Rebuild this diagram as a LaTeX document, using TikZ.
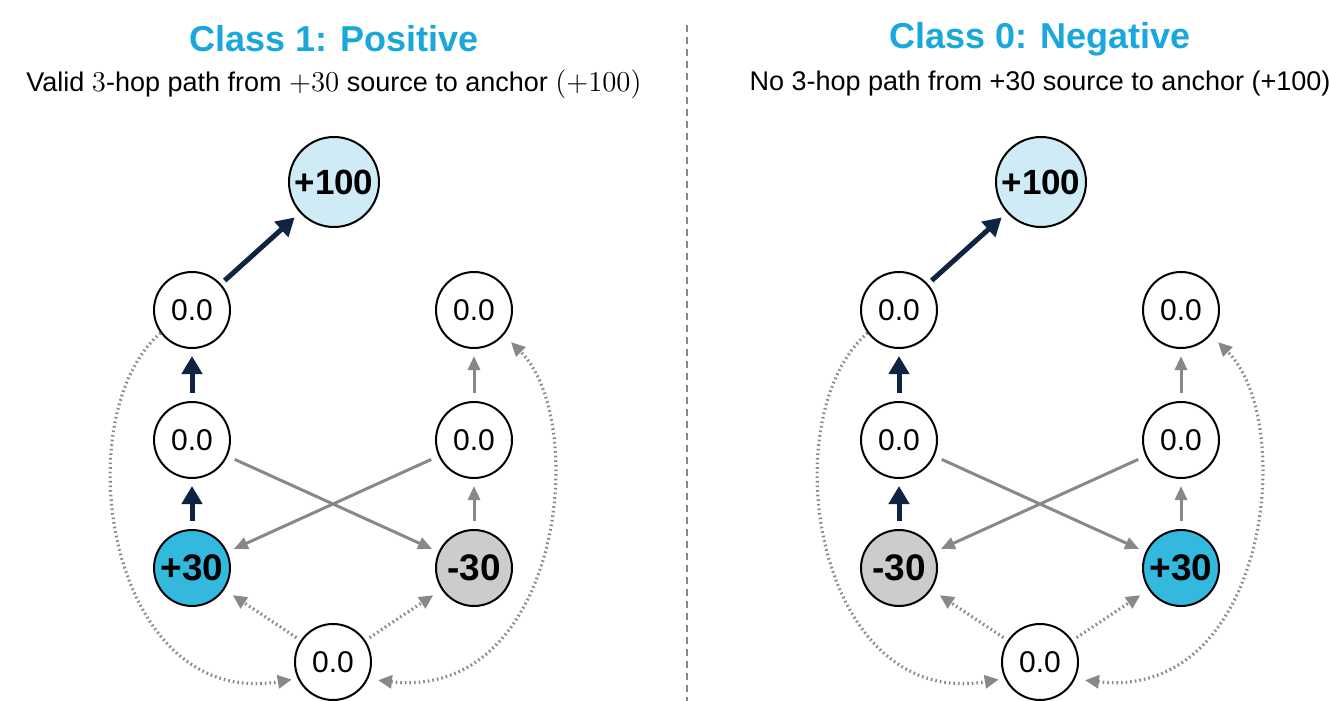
\documentclass[tikz,border=0pt]{standalone}
\usepackage[no-math]{fontspec}
\setmainfont{Liberation Sans}
\usetikzlibrary{arrows.meta}
\definecolor{titleblue}{HTML}{1AA8DC}
\definecolor{srcblue}{HTML}{33B8DE}
\definecolor{anchorblue}{HTML}{CFEBF6}
\definecolor{sinkgray}{HTML}{CCCCCC}
\definecolor{pathnavy}{HTML}{0E2442}
\definecolor{linkgray}{HTML}{888888}
\newcommand{\VtxBold}{\fontsize{17.5}{17.5}\selectfont\bfseries}
\newcommand{\VtxBig}{\fontsize{18.5}{18.5}\selectfont\bfseries}

\tikzset{
  vtx/.style={circle,draw,line width=1pt,minimum size=38pt,inner sep=0pt,font=\fontsize{15}{15}\selectfont},
  anchorvtx/.style={vtx,minimum size=45pt,fill=anchorblue,font=\VtxBold},
  srcvtx/.style={vtx,fill=srcblue,font=\VtxBig},
  sinkvtx/.style={vtx,fill=sinkgray,font=\VtxBig},
  hop/.style={-{Triangle[length=9pt,width=10pt]},line width=2.5pt,pathnavy,shorten <=4pt,shorten >=3.5pt},
  glink/.style={-{Triangle[length=7pt,width=6pt]},line width=1.5pt,linkgray,shorten <=4pt,shorten >=3.5pt},
  walk/.style={>={Triangle[length=7pt,width=6.5pt]},->,line width=1.6pt,linkgray,dash pattern=on 0.8pt off 1.5pt},
  ttl/.style={font=\fontsize{18}{18}\selectfont\bfseries,text=titleblue},
  sub/.style={font=\fontsize{13.5}{13.5}\selectfont}
}

\begin{document}
\begin{tikzpicture}[x=0.5pt,y=-0.5pt]
\useasboundingbox (0,0) rectangle (1329,701);

% class 1
\node[ttl] (pos-title) at (334,39) {Class 1: Positive};
\node[sub] (pos-sub) at (334,84) {Valid $3$-hop path from $+30$ source to anchor $(+100)$};

\node[anchorvtx] (pos-anchor) at (334,182) {+100};
\node[vtx] (pos-lt) at (192,310) {0.0};
\node[vtx] (pos-rt) at (474,310) {0.0};
\node[vtx] (pos-lm) at (192,440) {0.0};
\node[vtx] (pos-rm) at (474,440) {0.0};
\node[srcvtx] (pos-lb) at (192,568) {+30};
\node[sinkvtx] (pos-rb) at (474,568) {-30};
\node[vtx] (pos-bot) at (333,662) {0.0};

\draw[hop] (pos-lb) -- (pos-lm);
\draw[hop] (pos-lm) -- (pos-lt);
\draw[hop,shorten <=2.5pt] (pos-lt) -- (pos-anchor);
\draw[glink] (pos-lm) -- (pos-rb);
\draw[glink] (pos-rm) -- (pos-lb);
\draw[glink] (pos-rb) -- (pos-rm);
\draw[glink] (pos-rm) -- (pos-rt);
\draw[walk,shorten <=2.5pt,shorten >=5pt] (pos-bot) -- (pos-lb);
\draw[walk,shorten <=2.5pt,shorten >=5pt] (pos-bot) -- (pos-rb);
\draw[walk,shorten >=3pt] (pos-lt.216) .. controls +(-97,85) and +(-189,32) .. (pos-bot.205);
\draw[walk,<->,shorten <=5pt,shorten >=5pt] (pos-bot.334) .. controls +(193,22) and +(87,86) .. (pos-rt.320);

% divider
\draw[linkgray,line width=1pt,dash pattern=on 3.3pt off 2.7pt] (687,25) -- (687,701);

% class 0
\node[ttl] (neg-title) at (1040,39) {Class 0: Negative};
\node[sub] (neg-sub) at (1040,84) {No 3-hop path from +30 source to anchor (+100)};

\node[anchorvtx] (neg-anchor) at (1041,182) {+100};
\node[vtx] (neg-lt) at (899,310) {0.0};
\node[vtx] (neg-rt) at (1181,310) {0.0};
\node[vtx] (neg-lm) at (899,440) {0.0};
\node[vtx] (neg-rm) at (1181,440) {0.0};
\node[sinkvtx] (neg-lb) at (899,568) {-30};
\node[srcvtx] (neg-rb) at (1181,568) {+30};
\node[vtx] (neg-bot) at (1040,662) {0.0};

\draw[hop] (neg-lb) -- (neg-lm);
\draw[hop] (neg-lm) -- (neg-lt);
\draw[hop,shorten <=2.5pt] (neg-lt) -- (neg-anchor);
\draw[glink] (neg-lm) -- (neg-rb);
\draw[glink] (neg-rm) -- (neg-lb);
\draw[glink] (neg-rb) -- (neg-rm);
\draw[glink] (neg-rm) -- (neg-rt);
\draw[walk,shorten <=2.5pt,shorten >=5pt] (neg-bot) -- (neg-lb);
\draw[walk,shorten <=2.5pt,shorten >=5pt] (neg-bot) -- (neg-rb);
\draw[walk,shorten >=3pt] (neg-lt.216) .. controls +(-97,85) and +(-189,32) .. (neg-bot.205);
\draw[walk,<->,shorten <=5pt,shorten >=5pt] (neg-bot.334) .. controls +(193,22) and +(87,86) .. (neg-rt.320);
\end{tikzpicture}
\end{document}
